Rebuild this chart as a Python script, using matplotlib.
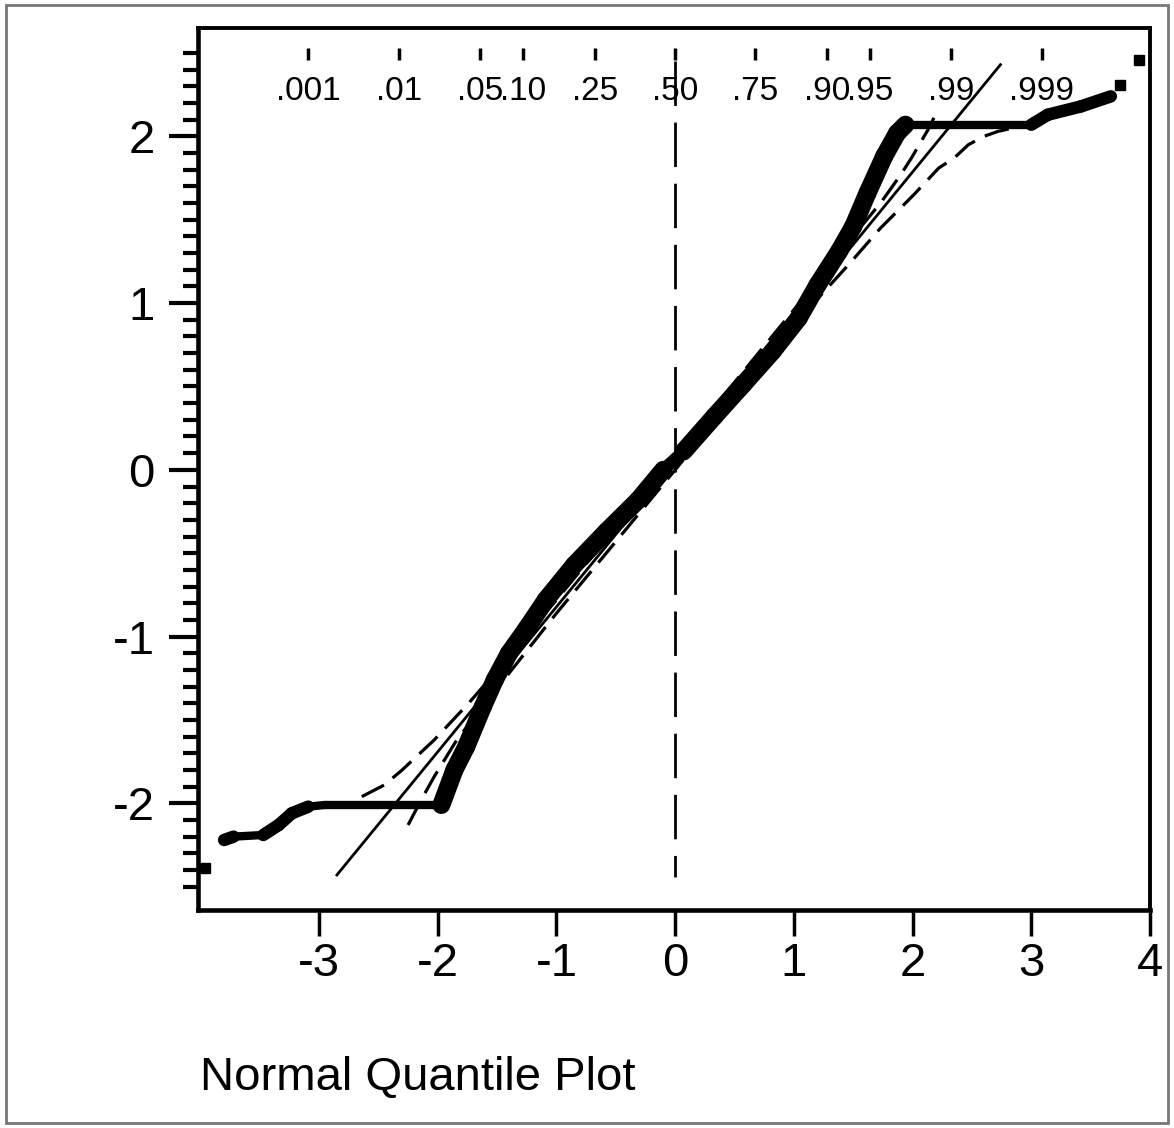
import numpy as np
import matplotlib.pyplot as plt
from matplotlib.collections import LineCollection
from matplotlib.patches import Rectangle

plt.rcParams['font.family'] = ['Liberation Sans', 'DejaVu Sans']
plt.rcParams['axes.unicode_minus'] = False
plt.rcParams['lines.scale_dashes'] = False

# sample quantiles against normal quantiles
qq_x = [-3.80, -3.72, -3.47, -3.34, -3.23, -3.09, -2.95, -1.97,
        -1.86, -1.76, -1.62, -1.52, -1.40, -1.25, -1.09, -0.85,
        -0.58, -0.31, -0.10, 0.07, 0.33, 0.57, 0.82, 1.04,
        1.20, 1.38, 1.50, 1.62, 1.76, 1.87, 1.94, 3.00,
        3.14, 3.42, 3.67]
qq_y = [-2.22, -2.20, -2.19, -2.13, -2.06, -2.02, -2.01, -2.01,
        -1.80, -1.66, -1.42, -1.26, -1.10, -0.95, -0.78, -0.57,
        -0.37, -0.18, 0.00, 0.11, 0.32, 0.51, 0.71, 0.91,
        1.11, 1.31, 1.46, 1.66, 1.88, 2.02, 2.07, 2.07,
        2.13, 2.18, 2.24]

# single points at both ends
lone_x = [-3.96, 3.75, 3.91]
lone_y = [-2.39, 2.31, 2.46]

# fitted normal line
fit_x = [-2.85, 2.74]
fit_y = [-2.43, 2.43]

# confidence bands (dashed)
band_hi_x = [-2.64, -2.45, -2.30, -2.03, -1.74, -1.57, -1.00, 0.00,
             1.00, 1.45, 1.73, 1.90, 1.99, 2.13, 2.22]
band_hi_y = [-1.96, -1.89, -1.80, -1.62, -1.40, -1.26, -0.78, 0.09,
             0.96, 1.36, 1.60, 1.77, 1.87, 2.04, 2.17]
band_lo_x = [-2.25, -2.14, -2.03, -1.84, -1.60, -1.00, 0.00, 1.00,
             1.46, 1.73, 2.01, 2.22, 2.35, 2.47, 2.60, 2.72, 2.97]
band_lo_y = [-2.13, -1.98, -1.84, -1.62, -1.40, -0.86, 0.00, 0.87,
             1.23, 1.45, 1.65, 1.81, 1.87, 1.95, 2.00, 2.03, 2.07]

# median marker line
median_x = [0.0, 0.0]
median_y = [2.45, -2.44]

# probability scale on top
prob_labels = ['.001', '.01', '.05', '.10', '.25', '.50', '.75', '.90', '.95', '.99', '.999']
prob_z = [-3.090, -2.326, -1.645, -1.282, -0.674, 0.0, 0.674, 1.282, 1.645, 2.326, 3.090]

x_ticks = [-3, -2, -1, 0, 1, 2, 3, 4]
y_ticks = [-2, -1, 0, 1, 2]

fig = plt.figure(figsize=(11.74, 11.28), dpi=100)
ax = fig.add_axes([198 / 1174, 1 - 910 / 1128, 952 / 1174, 882 / 1128])

# data band: flat runs thinner than the rising staircase parts
pts = np.column_stack([qq_x, qq_y])
segs = np.stack([pts[:-1], pts[1:]], axis=1)
dx = np.diff(qq_x)
dy = np.diff(qq_y)
slope = np.abs(dy) / np.maximum(np.abs(dx), 1e-6)
widths = np.where(slope < 0.1, 6.0, np.where(slope < 0.7, 9.0, 13.0))
lc = LineCollection(segs, linewidths=widths, colors='black',
                    capstyle='round', joinstyle='round', zorder=3)
ax.add_collection(lc)
ax.plot(lone_x, lone_y, ls='none', marker='s', ms=7, color='black', zorder=3)

ax.plot(fit_x, fit_y, color='black', lw=2.0, zorder=4)
ax.plot(band_hi_x, band_hi_y, color='black', lw=2.3, dashes=(18, 8), zorder=4)
ax.plot(band_lo_x, band_lo_y, color='black', lw=2.3, dashes=(18, 8), zorder=4)
ax.plot(median_x, median_y, color='black', lw=2.0, dashes=(32, 12), zorder=2)

# top probability scale
ax.plot(prob_z, [2.495] * len(prob_z), ls='none', marker='|', ms=8,
        mew=2.5, color='black')
for z, lab in zip(prob_z, prob_labels):
    ax.text(z, 2.27, lab, ha='center', va='center', fontsize=24)

ax.set_xlim(-4.02, 4.0)
ax.set_ylim(-2.64, 2.65)

ax.set_xticks(x_ticks)
ax.set_xticklabels([str(t) for t in x_ticks], fontsize=34)
ax.set_yticks(y_ticks)
ax.set_yticklabels([str(t) for t in y_ticks], fontsize=34)
minor = [round(v, 1) for v in np.arange(-2.5, 2.51, 0.1) if abs(v - round(v)) > 1e-6]
ax.set_yticks(minor, minor=True)
ax.tick_params(axis='x', length=19, width=2.5, pad=4)
ax.tick_params(axis='y', which='major', length=21, width=3, pad=10)
ax.tick_params(axis='y', which='minor', length=11, width=3)

for side in ['top', 'right']:
    ax.spines[side].set_linewidth(2.8)
for side in ['left', 'bottom']:
    ax.spines[side].set_linewidth(3.3)

fig.text(200 / 1174, 1 - 1090 / 1128, 'Normal Quantile Plot', fontsize=34,
         ha='left', va='baseline')

fig.patches.append(Rectangle((6 / 1174, 5 / 1128), 1162 / 1174, 1118 / 1128,
                             transform=fig.transFigure, fill=False,
                             edgecolor='#777777', lw=2.0))

fig.savefig('out.png', dpi=100)
